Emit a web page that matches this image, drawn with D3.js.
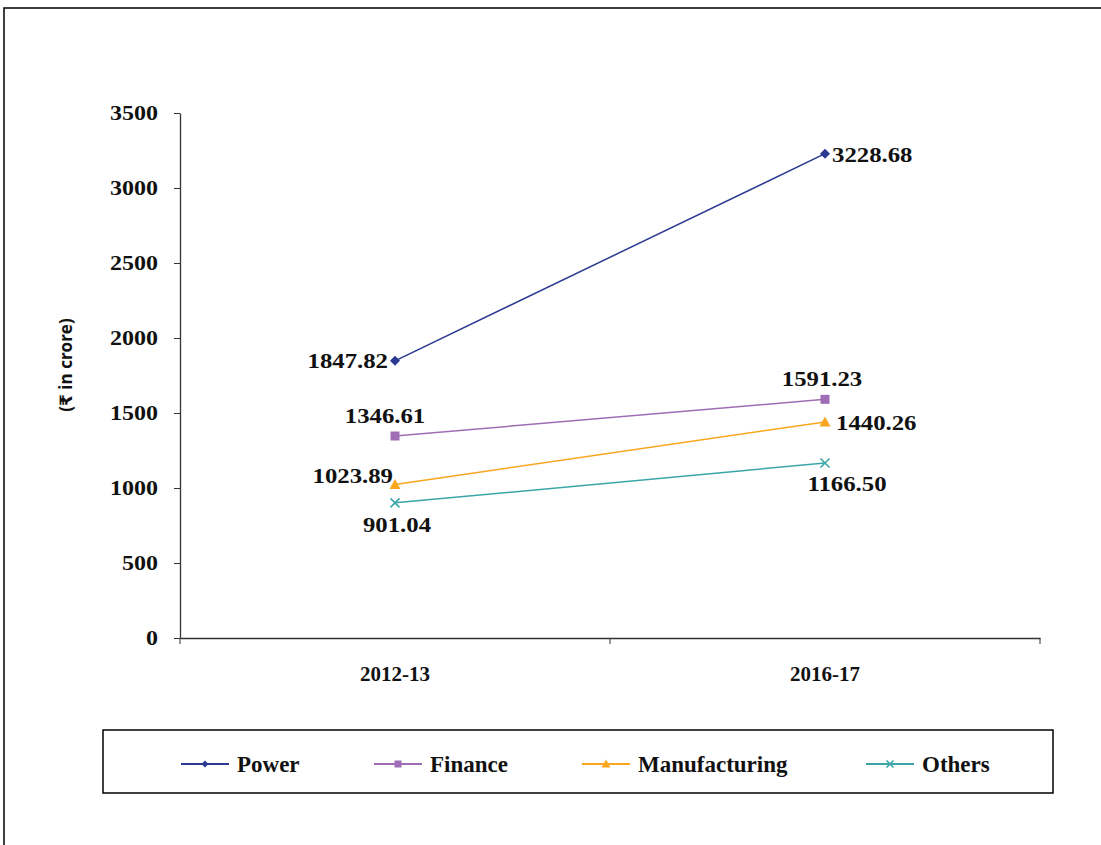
<!DOCTYPE html>
<html>
<head>
<meta charset="utf-8">
<script src="https://cdn.jsdelivr.net/npm/d3@7"></script>
<style>
  body { margin: 0; background: #fff; }
  svg { display: block; }
</style>
</head>
<body>
<div id="chart"></div>
<script>
"use strict";

// data
var years = ["2012-13", "2016-17"];
var seriesNames = ["Power", "Finance", "Manufacturing", "Others"];
var power = [1847.82, 3228.68];
var finance = [1346.61, 1591.23];
var manufacturing = [1023.89, 1440.26];
var others = [901.04, 1166.50];
var yTicks = [0, 500, 1000, 1500, 2000, 2500, 3000, 3500];

// styles
var colors = ["#2B3990", "#9E6DB5", "#F9A51E", "#3AA6A8"];
var markers = ["diamond", "square", "triangle", "cross"];
var serif = "Liberation Serif, Times New Roman, serif";
// label placement per series per point: [anchor, dx, dy]
var labelPlace = [
  [["end", -7, 7], ["start", 7, 8]],
  [["middle", -10, -13], ["middle", -3, -13]],
  [["end", -2, -1], ["start", 11, 8]],
  [["middle", 2, 29], ["middle", 22, 28]]
];

var width = 1101, height = 845;
var margin = { left: 180, right: 61, top: 113, bottom: 207 };

var svg = d3.select("#chart").append("svg")
  .attr("width", width)
  .attr("height", height);

// outer frame
svg.append("rect")
  .attr("x", 4).attr("y", 8)
  .attr("width", 1120).attr("height", 860)
  .attr("fill", "none").attr("stroke", "#000").attr("stroke-width", 1.5);

var x = d3.scaleBand()
  .domain(years)
  .range([margin.left, width - margin.right]);

var y = d3.scaleLinear()
  .domain([0, 3500])
  .range([height - margin.bottom, margin.top]);

// y axis
var yAxis = svg.append("g")
  .attr("transform", "translate(" + margin.left + ",0)")
  .call(d3.axisLeft(y).tickValues(yTicks).tickFormat(d3.format("d")).tickSize(6).tickSizeOuter(0));
yAxis.select(".domain").attr("stroke", "#333").attr("stroke-width", 1.3);
yAxis.selectAll(".tick line").attr("stroke", "#333");
yAxis.selectAll(".tick text")
  .attr("x", 0)
  .attr("transform", "translate(-22,0) scale(1.2,1)")
  .attr("font-family", serif)
  .attr("font-weight", "bold")
  .attr("font-size", 20)
  .attr("fill", "#111");

// x axis
var xAxis = svg.append("g")
  .attr("transform", "translate(0," + y(0) + ")")
  .call(d3.axisBottom(x).tickSize(0).tickSizeOuter(0));
xAxis.select(".domain").attr("stroke", "#333").attr("stroke-width", 1.3);
xAxis.selectAll(".tick line").remove();
xAxis.selectAll(".tick text")
  .attr("y", 43)
  .attr("dy", 0)
  .attr("font-family", serif)
  .attr("font-weight", "bold")
  .attr("font-size", 21)
  .attr("fill", "#111");

// band boundary ticks
var boundaries = [x.range()[0]].concat(years.map(function(d) { return x(d) + x.bandwidth(); }));
xAxis.selectAll(".bnd")
  .data(boundaries)
  .enter()
  .append("line")
    .attr("x1", function(d) { return d; })
    .attr("x2", function(d) { return d; })
    .attr("y1", 0).attr("y2", 6)
    .attr("stroke", "#333");

// y axis label
svg.append("text")
  .attr("transform", "translate(72,365) rotate(-90)")
  .attr("text-anchor", "middle")
  .attr("font-family", "Open Sans, DejaVu Sans, sans-serif")
  .attr("font-weight", "bold")
  .attr("font-size", 17)
  .attr("fill", "#111")
  .text("(₹ in crore)");

// marker helper
function drawMarker(g, type, color, size) {
  var h = size / 2;
  if (type === "diamond") {
    g.append("path").attr("d", "M0," + (-h) + "L" + h + ",0L0," + h + "L" + (-h) + ",0Z").attr("fill", color);
  } else if (type === "square") {
    g.append("rect").attr("x", -h).attr("y", -h)
      .attr("width", size).attr("height", size).attr("fill", color);
  } else if (type === "triangle") {
    g.append("path").attr("d", "M0," + (-h - 1) + "L" + (h + 1) + "," + h + "L" + (-h - 1) + "," + h + "Z").attr("fill", color);
  } else {
    g.append("path").attr("d", "M" + (-h) + "," + (-h) + "L" + h + "," + h + "M" + (-h) + "," + h + "L" + h + "," + (-h))
      .attr("stroke", color).attr("stroke-width", 1.6).attr("fill", "none");
  }
}

var allSeries = [power, finance, manufacturing, others];
var cx = function(i) { return x(years[i]) + x.bandwidth() / 2; };

var line = d3.line()
  .x(function(d, i) { return cx(i); })
  .y(function(d) { return y(d); });

allSeries.forEach(function(values, s) {
  svg.append("path")
    .datum(values)
    .attr("d", line)
    .attr("fill", "none")
    .attr("stroke", colors[s])
    .attr("stroke-width", 1.5);

  values.forEach(function(v, i) {
    var g = svg.append("g").attr("transform", "translate(" + cx(i) + "," + y(v) + ")");
    drawMarker(g, markers[s], colors[s], s === 0 ? 10 : 9);
    var p = labelPlace[s][i];
    svg.append("text")
      .attr("transform", "translate(" + (cx(i) + p[1]) + "," + (y(v) + p[2]) + ") scale(1.18,1)")
      .attr("text-anchor", p[0])
      .attr("font-family", serif)
      .attr("font-weight", "bold")
      .attr("font-size", 21)
      .attr("fill", "#111")
      .text(v.toFixed(2));
  });
});

// legend
var legend = svg.append("g");
legend.append("rect")
  .attr("x", 103).attr("y", 730)
  .attr("width", 950).attr("height", 63)
  .attr("fill", "none").attr("stroke", "#000").attr("stroke-width", 1.5);

var legendX = [181, 374, 582, 866];
seriesNames.forEach(function(name, s) {
  var g = legend.append("g").attr("transform", "translate(" + legendX[s] + ",764)");
  g.append("line").attr("x1", 0).attr("x2", 48).attr("y1", 0).attr("y2", 0)
    .attr("stroke", colors[s]).attr("stroke-width", 2);
  var m = g.append("g").attr("transform", "translate(24,0)");
  drawMarker(m, markers[s], colors[s], 7);
  g.append("text")
    .attr("x", 56).attr("y", 8)
    .attr("font-family", serif)
    .attr("font-weight", "bold")
    .attr("font-size", 23)
    .attr("fill", "#111")
    .text(name);
});
</script>
</body>
</html>
